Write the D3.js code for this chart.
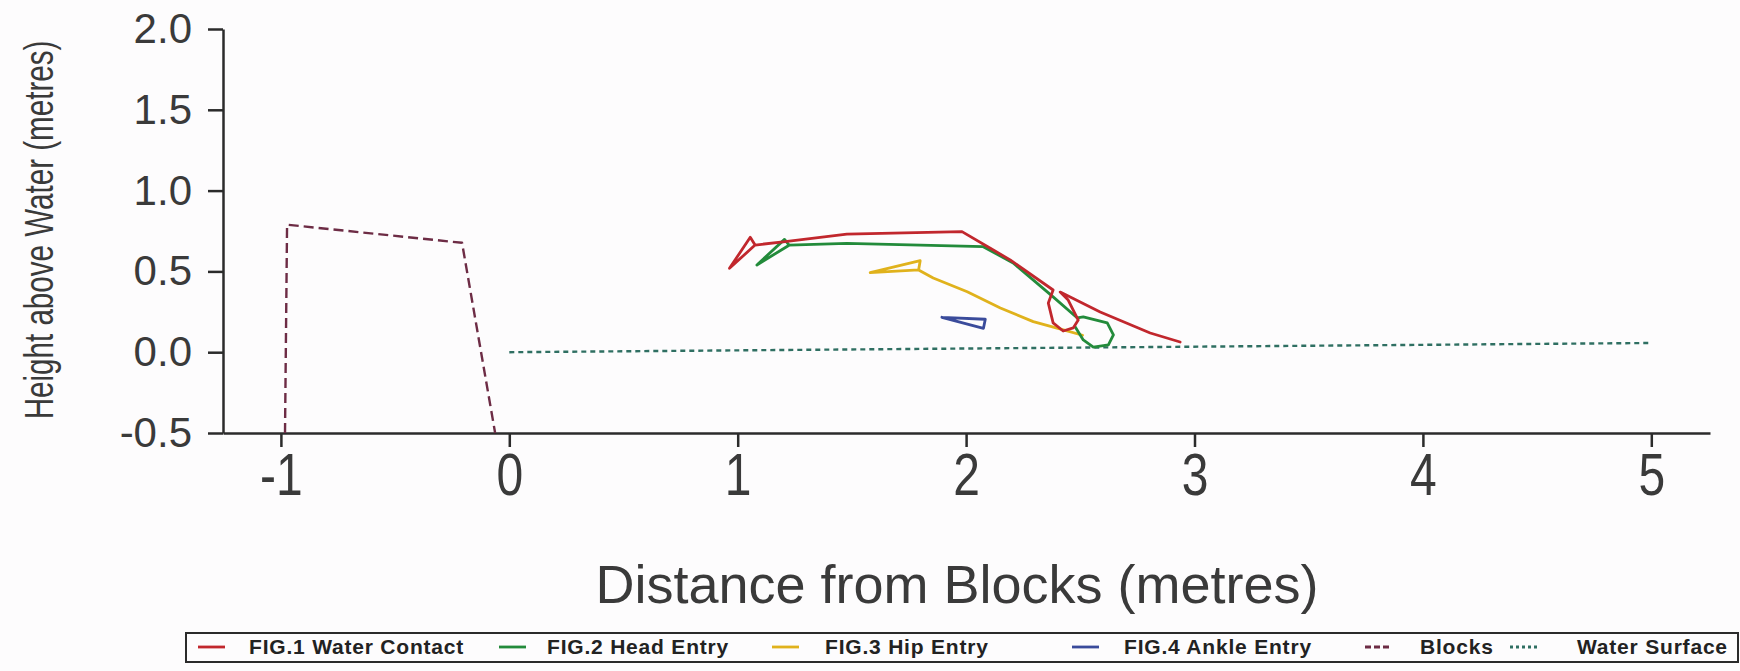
<!DOCTYPE html>
<meta charset="utf-8">
<style>
  body {
    margin: 0;
    background: #fdfcfd;
    font-family: "Liberation Sans", Arial, sans-serif;
  }

  .axis path,
  .axis line {
    fill: none;
    stroke: #2b2b2b;
    stroke-width: 2.5;
  }

  .axis text {
    fill: #3a3a3a;
    font-family: "Liberation Sans", Arial, sans-serif;
  }

  .trace {
    fill: none;
    stroke-width: 2.8;
    stroke-linejoin: round;
    stroke-linecap: round;
  }
</style>

<body>
  <script src="https://d3js.org/d3.v7.min.js"></script>

  <script>
    // tick labels
    var xTicks = [-1, 0, 1, 2, 3, 4, 5];
    var yTicks = [-0.5, 0, 0.5, 1, 1.5, 2];

    // FIG.1 Water Contact
    var contactX = [1.076, 0.964, 1.055, 1.076, 1.208, 1.478, 1.982, 2.106, 2.193, 2.381, 2.360, 2.381, 2.425, 2.469, 2.491, 2.447, 2.412, 2.587, 2.806, 2.937];
    var contactY = [0.663, 0.519, 0.711, 0.663, 0.684, 0.731, 0.746, 0.643, 0.571, 0.385, 0.304, 0.181, 0.131, 0.150, 0.199, 0.323, 0.372, 0.249, 0.119, 0.063];

    // FIG.2 Head Entry
    var headX = [1.225, 1.084, 1.205, 1.225, 1.478, 2.075, 2.206, 2.381, 2.487, 2.513, 2.618, 2.645, 2.623, 2.557, 2.513, 2.478];
    var headY = [0.662, 0.540, 0.698, 0.662, 0.674, 0.653, 0.552, 0.342, 0.212, 0.218, 0.181, 0.107, 0.045, 0.032, 0.076, 0.156];

    // FIG.3 Hip Entry
    var hipX = [1.792, 1.580, 1.799, 1.792, 1.856, 2.005, 2.150, 2.294, 2.426, 2.510];
    var hipY = [0.509, 0.492, 0.566, 0.509, 0.459, 0.374, 0.274, 0.189, 0.138, 0.105];

    // FIG.4 Ankle Entry
    var ankleX = [1.894, 2.084, 2.076, 1.894];
    var ankleY = [0.216, 0.204, 0.148, 0.216];

    // Blocks outline
    var blocksX = [-0.982, -0.973, -0.207, -0.062];
    var blocksY = [-0.5, 0.789, 0.677, -0.5];

    // Water surface
    var waterX = [0, 5];
    var waterY = [0.0, 0.057];

    var seriesNames = ["FIG.1 Water Contact", "FIG.2 Head Entry", "FIG.3 Hip Entry", "FIG.4 Ankle Entry", "Blocks", "Water Surface"];
    var seriesColors = ["#c1272d", "#238b3b", "#e0b21c", "#3a4b9b", "#6d2c45", "#2f6f62"];
    var seriesDash = [null, null, null, null, "10,5", "5,4"];

    var series = [
      d3.zip(contactX, contactY),
      d3.zip(headX, headY),
      d3.zip(hipX, hipY),
      d3.zip(ankleX, ankleY),
      d3.zip(blocksX, blocksY),
      d3.zip(waterX, waterY)
    ];

    var width = 1740, height = 671;

    var svg = d3.select("body")
      .append("svg")
      .attr("width", width)
      .attr("height", height);

    // scales (axis line runs a little past -1 and 5)
    var x = d3.scaleLinear()
      .domain([-1.2535, 5.257])
      .range([223, 1710]);

    var y = d3.scaleLinear()
      .domain([-0.5, 2.0])
      .range([433, 29]);

    // x axis
    var gx = svg.append("g")
      .attr("class", "axis")
      .attr("transform", "translate(0," + y(-0.5) + ")")
      .call(d3.axisBottom(x)
        .tickValues(xTicks)
        .tickSize(14)
        .tickSizeOuter(0)
        .tickPadding(5)
        .tickFormat(function (d) { return String(d); }));
    gx.selectAll("text")
      .style("font-size", "60px")
      .attr("transform", "scale(0.8,1)");

    // y axis
    var gy = svg.append("g")
      .attr("class", "axis")
      .attr("transform", "translate(" + x.range()[0] + ",0)")
      .call(d3.axisLeft(y)
        .tickValues(yTicks)
        .tickSize(15)
        .tickSizeOuter(0)
        .tickPadding(16)
        .tickFormat(function (d) { return d.toFixed(1); }));
    gy.selectAll("text")
      .style("font-size", "42px");

    // axis titles
    svg.append("text")
      .attr("x", 957)
      .attr("y", 603)
      .attr("text-anchor", "middle")
      .style("font-size", "54px")
      .style("fill", "#3a3a3a")
      .text("Distance from Blocks (metres)");

    svg.append("text")
      .attr("transform", "translate(53,230) rotate(-90) scale(0.74,1)")
      .attr("text-anchor", "middle")
      .style("font-size", "40px")
      .style("fill", "#3a3a3a")
      .text("Height above Water (metres)");

    // traces
    var line = d3.line()
      .x(function (d) { return x(d[0]); })
      .y(function (d) { return y(d[1]); });

    // draw water and blocks first, figures on top
    var order = [5, 4, 3, 2, 1, 0];
    order.forEach(function (i) {
      svg.append("path")
        .datum(series[i])
        .attr("class", "trace")
        .attr("d", line)
        .style("stroke", seriesColors[i])
        .style("stroke-width", i >= 4 ? 2.4 : 2.8)
        .style("stroke-linecap", i >= 4 ? "butt" : "round")
        .style("stroke-dasharray", seriesDash[i]);
    });

    // legend box along the bottom
    var legendLine = [198, 499, 772, 1072, 1365, 1510];
    var legendText = [249, 547, 825, 1124, 1420, 1577];
    var legendY = 647;

    svg.append("rect")
      .attr("x", 186)
      .attr("y", 633)
      .attr("width", 1552)
      .attr("height", 29)
      .style("fill", "none")
      .style("stroke", "#2b2b2b")
      .style("stroke-width", 2);

    seriesNames.forEach(function (name, i) {
      svg.append("line")
        .attr("x1", legendLine[i])
        .attr("x2", legendLine[i] + 27)
        .attr("y1", legendY)
        .attr("y2", legendY)
        .style("stroke", seriesColors[i])
        .style("stroke-width", 2.8)
        .style("stroke-dasharray", i == 4 ? "6,3" : (i == 5 ? "3,3" : null));

      svg.append("text")
        .attr("x", legendText[i])
        .attr("y", legendY + 7)
        .style("font-size", "21px")
        .style("font-weight", "bold")
        .style("letter-spacing", "0.8px")
        .style("fill", "#222")
        .text(name);
    });
  </script>
</body>
